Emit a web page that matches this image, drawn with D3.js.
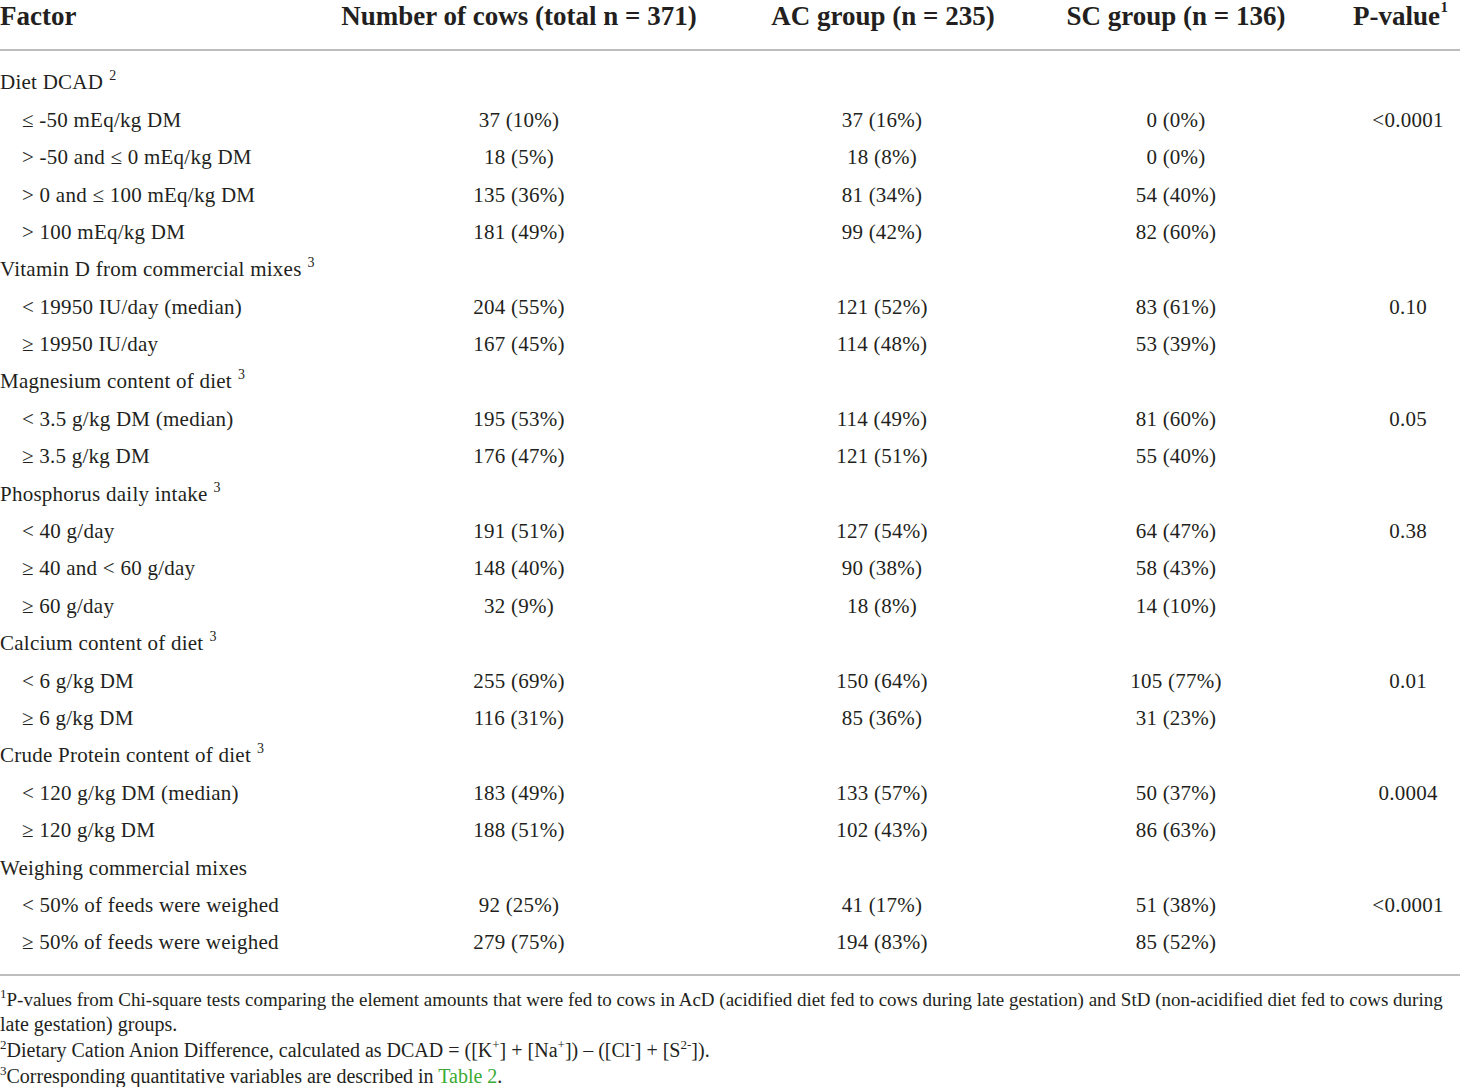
<!DOCTYPE html>
<html>
<head>
<meta charset="utf-8">
<script src="https://cdn.jsdelivr.net/npm/d3@7"></script>
<style>
  html, body { margin: 0; padding: 0; background: #fff; }
  svg { display: block; font-family: "Liberation Serif", "DejaVu Serif", serif; }
</style>
</head>
<body>
<div id="chart"></div>
<script>
// Column headers
const headers = ['Factor', 'Number of cows (total n = 371)', 'AC group (n = 235)', 'SC group (n = 136)', 'P-value'];

// Factors and their levels
const factors = ['Diet DCAD', 'Vitamin D from commercial mixes', 'Magnesium content of diet',
  'Phosphorus daily intake', 'Calcium content of diet', 'Crude Protein content of diet',
  'Weighing commercial mixes'];
const factorNotes = ['2', '3', '3', '3', '3', '3', ''];
const levels = [
  ['≤ -50 mEq/kg DM', '> -50 and ≤ 0 mEq/kg DM', '> 0 and ≤ 100 mEq/kg DM', '> 100 mEq/kg DM'],
  ['< 19950 IU/day (median)', '≥ 19950 IU/day'],
  ['< 3.5 g/kg DM (median)', '≥ 3.5 g/kg DM'],
  ['< 40 g/day', '≥ 40 and < 60 g/day', '≥ 60 g/day'],
  ['< 6 g/kg DM', '≥ 6 g/kg DM'],
  ['< 120 g/kg DM (median)', '≥ 120 g/kg DM'],
  ['< 50% of feeds were weighed', '≥ 50% of feeds were weighed']
];

// Counts and percentages
const totalCount = [[37, 18, 135, 181], [204, 167], [195, 176], [191, 148, 32], [255, 116], [183, 188], [92, 279]];
const totalPct   = [[10, 5, 36, 49], [55, 45], [53, 47], [51, 40, 9], [69, 31], [49, 51], [25, 75]];
const acCount    = [[37, 18, 81, 99], [121, 114], [114, 121], [127, 90, 18], [150, 85], [133, 102], [41, 194]];
const acPct      = [[16, 8, 34, 42], [52, 48], [49, 51], [54, 38, 8], [64, 36], [57, 43], [17, 83]];
const scCount    = [[0, 0, 54, 82], [83, 53], [81, 55], [64, 58, 14], [105, 31], [50, 86], [51, 85]];
const scPct      = [[0, 0, 40, 60], [61, 39], [60, 40], [47, 43, 10], [77, 23], [37, 63], [38, 52]];
const pValues    = ['<0.0001', '0.10', '0.05', '0.38', '0.01', '0.0004', '<0.0001'];

const width = 1460, height = 1087;

// Rows a plat
const rows = [];
factors.forEach((f, i) => {
  rows.push({ kind: 'factor', label: f, note: factorNotes[i] });
  levels[i].forEach((lv, j) => {
    rows.push({
      kind: 'level', label: lv,
      total: `${totalCount[i][j]} (${totalPct[i][j]}%)`,
      ac: `${acCount[i][j]} (${acPct[i][j]}%)`,
      sc: `${scCount[i][j]} (${scPct[i][j]}%)`,
      p: j === 0 ? pValues[i] : ''
    });
  });
});

const svg = d3.select('#chart').append('svg')
  .attr('width', width)
  .attr('height', height);

// Escalas
const y = d3.scalePoint()
  .domain(d3.range(rows.length))
  .range([82, 942]);

const colX = d3.scaleOrdinal()
  .domain(['total', 'ac', 'sc', 'p'])
  .range([519, 882, 1176, 1408]);

const textColor = '#231f20';

// Encabezado
const head = svg.append('g')
  .attr('font-size', 27)
  .attr('font-weight', 700)
  .attr('fill', textColor);

head.append('text')
  .attr('x', 0)
  .attr('y', 25)
  .text(headers[0]);

const headCenters = [519, 883, 1176];
headers.slice(1, 4).forEach((h, i) => {
  head.append('text')
    .attr('x', headCenters[i])
    .attr('y', 25)
    .attr('text-anchor', 'middle')
    .text(h);
});

head.append('text')
  .attr('x', 1440)
  .attr('y', 25)
  .attr('text-anchor', 'end')
  .text(headers[4]);

head.append('text')
  .attr('x', 1448)
  .attr('y', 12)
  .attr('text-anchor', 'end')
  .attr('font-size', 15)
  .text('1');

// Lineas
svg.append('line')
  .attr('x1', 0).attr('x2', width)
  .attr('y1', 50).attr('y2', 50)
  .attr('stroke', '#bdbdbd')
  .attr('stroke-width', 2);

svg.append('line')
  .attr('x1', 0).attr('x2', width)
  .attr('y1', 975).attr('y2', 975)
  .attr('stroke', '#bdbdbd')
  .attr('stroke-width', 2);

// Cuerpo
const body = svg.append('g')
  .attr('font-size', 21)
  .attr('letter-spacing', 0.25)
  .attr('fill', textColor);

const rowG = body.selectAll('g.row')
  .data(rows)
  .join('g')
  .attr('class', 'row')
  .attr('transform', (d, i) => `translate(0,${y(i)})`);

rowG.append('text')
  .attr('x', d => d.kind === 'factor' ? 0 : 22)
  .attr('dy', '0.35em')
  .text(d => d.label)
  .each(function (d) {
    if (d.kind === 'factor' && d.note) {
      d3.select(this).append('tspan')
        .attr('dx', 6)
        .attr('dy', -9)
        .attr('font-size', 14)
        .text(d.note);
    }
  });

['total', 'ac', 'sc', 'p'].forEach(key => {
  rowG.filter(d => d.kind === 'level' && d[key])
    .append('text')
    .attr('x', colX(key))
    .attr('dy', '0.35em')
    .attr('text-anchor', 'middle')
    .text(d => d[key]);
});

// Notas al pie
const notes = svg.append('g')
  .attr('font-size', 20)
  .attr('fill', textColor);

const note1 = notes.append('text').attr('x', 0).attr('y', 1006)
  .attr('font-size', 19);
note1.append('tspan').attr('font-size', 13).attr('dy', -8).text('1');
note1.append('tspan').attr('dy', 8)
  .text('P-values from Chi-square tests comparing the element amounts that were fed to cows in AcD (acidified diet fed to cows during late gestation) and StD (non-acidified diet fed to cows during');

notes.append('text').attr('x', 0).attr('y', 1031)
  .text('late gestation) groups.');

const note2 = notes.append('text').attr('x', 0).attr('y', 1057);
note2.append('tspan').attr('font-size', 13).attr('dy', -8).text('2');
note2.append('tspan').attr('dy', 8).text('Dietary Cation Anion Difference, calculated as DCAD = ([K');
note2.append('tspan').attr('font-size', 13).attr('dy', -8).text('+');
note2.append('tspan').attr('dy', 8).text('] + [Na');
note2.append('tspan').attr('font-size', 13).attr('dy', -8).text('+');
note2.append('tspan').attr('dy', 8).text(']) – ([Cl');
note2.append('tspan').attr('font-size', 13).attr('dy', -8).text('-');
note2.append('tspan').attr('dy', 8).text('] + [S');
note2.append('tspan').attr('font-size', 13).attr('dy', -8).text('2-');
note2.append('tspan').attr('dy', 8).text(']).');

const note3 = notes.append('text').attr('x', 0).attr('y', 1083);
note3.append('tspan').attr('font-size', 13).attr('dy', -8).text('3');
note3.append('tspan').attr('dy', 8).text('Corresponding quantitative variables are described in ');
note3.append('tspan').attr('fill', '#3aaa35').text('Table 2');
note3.append('tspan').text('.');
</script>
</body>
</html>
